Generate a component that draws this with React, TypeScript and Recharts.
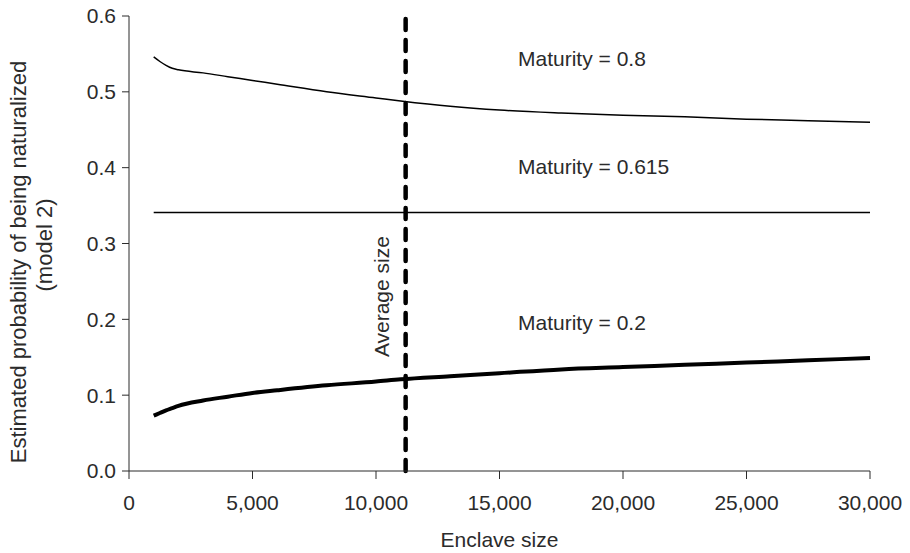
import React from 'react';
import { LineChart, Line, XAxis, YAxis, ReferenceLine, ReferenceDot } from 'recharts';

// values (enclave size vs estimated probability)
const enclaveSizes = [1000, 1250, 1500, 1750, 2000, 3000, 4000, 5000, 6000, 8000, 10000, 11000, 13000, 15000, 17500, 20000, 22500, 25000, 27500, 30000];
const maturityHigh = [0.546, 0.540, 0.535, 0.531, 0.529, 0.525, 0.520, 0.515, 0.510, 0.500, 0.492, 0.488, 0.481, 0.476, 0.472, 0.469, 0.467, 0.464, 0.462, 0.460];
const maturityMean = [0.341, 0.341, 0.341, 0.341, 0.341, 0.341, 0.341, 0.341, 0.341, 0.341, 0.341, 0.341, 0.341, 0.341, 0.341, 0.341, 0.341, 0.341, 0.341, 0.341];
const maturityLow = [0.073, 0.0765, 0.080, 0.083, 0.086, 0.093, 0.098, 0.103, 0.1065, 0.113, 0.118, 0.121, 0.125, 0.129, 0.134, 0.137, 0.140, 0.143, 0.146, 0.149];

const xTicks = [0, 5000, 10000, 15000, 20000, 25000, 30000];
const yTicks = [0, 0.1, 0.2, 0.3, 0.4, 0.5, 0.6];

const averageSize = 11200;

// annotations, anchored in data units
const curveLabels = [
  { text: 'Maturity = 0.8', x: 15750, y: 0.544 },
  { text: 'Maturity = 0.615', x: 15750, y: 0.402 },
  { text: 'Maturity = 0.2', x: 15750, y: 0.196 },
];
const averageLabel = { text: 'Average size', x: 10230, y: 0.23 };

const font = '"Liberation Sans", Arial, Helvetica, sans-serif';
const ink = '#2b2b2b';
const fs = 21;

const data = enclaveSizes.map((size, i) => ({
  size,
  high: maturityHigh[i],
  mean: maturityMean[i],
  low: maturityLow[i],
}));

const fmtX = (v: number) => v.toLocaleString('en-US');
const fmtY = (v: number) => v.toFixed(1);

const YTitle = () => (
  <g fontFamily={font} fontSize={22} fill={ink}>
    <text x={18} y={262} transform="rotate(-90 18 262)" textAnchor="middle" dominantBaseline="central">
      Estimated probability of being naturalized
    </text>
    <text x={44} y={245} transform="rotate(-90 44 245)" textAnchor="middle" dominantBaseline="central">
      (model 2)
    </text>
  </g>
);

const RotatedLabel = (props: any) => {
  const vb = props.viewBox || {};
  const x = vb.x + (vb.width || 0) / 2;
  const y = vb.y + (vb.height || 0) / 2;
  return (
    <text
      x={x}
      y={y}
      transform={`rotate(-90 ${x} ${y})`}
      textAnchor="middle"
      dominantBaseline="central"
      fontFamily={font}
      fontSize={fs}
      fill={ink}
    >
      {props.value}
    </text>
  );
};

export default function App() {
  return (
    <div style={{ position: 'absolute', left: 0, top: 0, background: '#fff' }}>
      <LineChart
        width={910}
        height={553}
        data={data}
        margin={{ top: 16, right: 40, bottom: 52, left: 0 }}
      >
        <XAxis
          dataKey="size"
          type="number"
          domain={[0, 30000]}
          ticks={xTicks}
          tickFormatter={fmtX}
          height={30}
          stroke={ink}
          tickSize={8}
          tickMargin={16}
          tick={{ fill: ink, fontSize: fs, fontFamily: font }}
          label={{ value: 'Enclave size', position: 'bottom', offset: 31, fill: ink, fontSize: fs, fontFamily: font }}
        />
        <YAxis
          type="number"
          domain={[0, 0.6]}
          ticks={yTicks}
          tickFormatter={fmtY}
          width={129}
          stroke={ink}
          tickSize={7}
          tickMargin={6}
          tick={{ fill: ink, fontSize: fs, fontFamily: font }}
          label={{ content: () => <YTitle /> }}
        />
        <Line dataKey="high" type="monotone" stroke="#000" strokeWidth={1.5} dot={false} isAnimationActive={false} />
        <Line dataKey="mean" type="linear" stroke="#000" strokeWidth={1.5} dot={false} isAnimationActive={false} />
        <Line dataKey="low" type="monotone" stroke="#000" strokeWidth={4} dot={false} isAnimationActive={false} />
        <ReferenceLine
          x={averageSize}
          stroke="#000"
          strokeWidth={4.5}
          strokeDasharray="11 10"
          strokeLinecap="round"
        />
        <ReferenceDot
          x={averageLabel.x}
          y={averageLabel.y}
          r={0}
          fill="none"
          stroke="none"
          label={{ value: averageLabel.text, content: (p: any) => <RotatedLabel {...p} value={averageLabel.text} /> }}
        />
        {curveLabels.map((l) => (
          <ReferenceDot
            key={l.text}
            x={l.x}
            y={l.y}
            r={0}
            fill="none"
            stroke="none"
            label={{ value: l.text, position: 'right', offset: 0, fill: ink, fontSize: fs, fontFamily: font }}
          />
        ))}
      </LineChart>
    </div>
  );
}
